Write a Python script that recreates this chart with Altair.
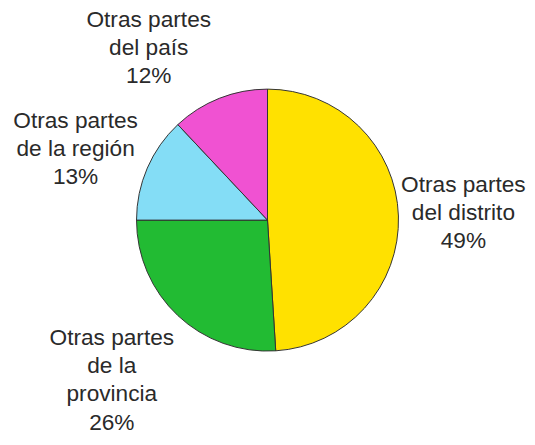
import altair as alt
import pandas as pd

categorias = ["Otras partes del distrito", "Otras partes de la provincia",
              "Otras partes de la región", "Otras partes del país"]
etiquetas = ["Otras partes\ndel distrito\n49%", "Otras partes\nde la\nprovincia\n26%",
             "Otras partes\nde la región\n13%", "Otras partes\ndel país\n12%"]
valores = [49, 26, 13, 12]
colores = ["#FFE100", "#22BB33", "#84DDF6", "#F052D2"]

df = pd.DataFrame({"cat": categorias, "label": etiquetas, "valor": valores,
                   "orden": list(range(len(valores)))})

base = alt.Chart(df).encode(
    theta=alt.Theta("valor:Q", stack=True),
    order=alt.Order("orden:Q"),
    x=alt.value(263.5),
    y=alt.value(212),
)

pie = base.mark_arc(outerRadius=133, stroke="#333333", strokeWidth=1).encode(
    color=alt.Color("cat:N", scale=alt.Scale(domain=categorias, range=colores), legend=None)
)

# label placement per slice (radius along slice mid-angle plus small nudge)
placement = {
    categorias[0]: dict(radius=199, dx=0, dy=-29),
    categorias[1]: dict(radius=228, dx=-2, dy=-46),
    categorias[2]: dict(radius=208, dx=-4, dy=-18),
    categorias[3]: dict(radius=189, dx=-51, dy=-27),
}

layers = [pie]
for i, c in enumerate(categorias):
    p = placement[c]
    t = base.mark_text(
        radius=p["radius"], dx=p["dx"], dy=p["dy"], font="Liberation Sans",
        fontSize=23, lineHeight=28.5, lineBreak="\n", color="#2a2a2a",
        align="center", baseline="middle"
    ).transform_calculate(
        lbl=f"datum.cat == '{c}' ? datum.label : ''"
    ).encode(text="lbl:N")
    layers.append(t)

chart = alt.layer(*layers).properties(
    width=527, height=437, padding=0,
    autosize=alt.AutoSizeParams(type="none"),
).configure_view(stroke=None)

chart.save("out.html", embed_options={"renderer": "svg", "actions": False})
